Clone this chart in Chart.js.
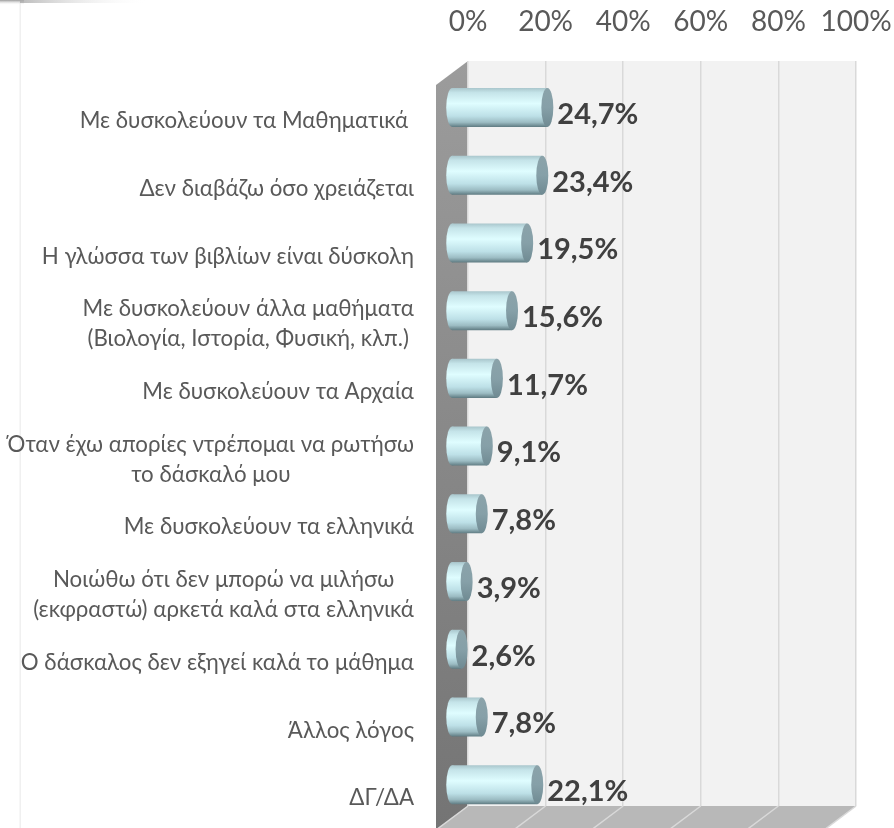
<!DOCTYPE html>
<html><head><meta charset="utf-8">
<style>html,body{margin:0;padding:0;background:#fff}canvas{display:block}</style>
<script src="https://cdn.jsdelivr.net/npm/chart.js@4"></script>
</head><body><canvas id="c" width="894" height="828"></canvas>
<script>
const categories = [
  "Με δυσκολεύουν τα Μαθηματικά ",
  "Δεν διαβάζω όσο χρειάζεται",
  "Η γλώσσα των βιβλίων είναι δύσκολη",
  ["Με δυσκολεύουν άλλα μαθήματα","(Βιολογία, Ιστορία, Φυσική, κλπ.)"],
  "Με δυσκολεύουν τα Αρχαία",
  ["Όταν έχω απορίες ντρέπομαι να ρωτήσω","το δάσκαλό μου"],
  "Με δυσκολεύουν τα ελληνικά",
  ["Νοιώθω ότι δεν μπορώ να μιλήσω","(εκφραστώ) αρκετά καλά στα ελληνικά"],
  "Ο δάσκαλος δεν εξηγεί καλά το μάθημα",
  "Άλλος λόγος",
  "ΔΓ/ΔΑ"
];
const values = [24.7,23.4,19.5,15.6,11.7,9.1,7.8,3.9,2.6,7.8,22.1];
const FONT = "Lato, 'Open Sans', 'Noto Sans', sans-serif";
const dx = -16.5, dy = 12.6, depthX = 32, depthY = 24, capR = 6, BAR = 0.576;

function bodyGradient(c, top, h){
  const g = c.createLinearGradient(0, top, 0, top + h);
  g.addColorStop(0, '#a9c6cc');
  g.addColorStop(0.12, '#c5e4e9');
  g.addColorStop(0.4, '#dffdff');
  g.addColorStop(0.72, '#bde0e7');
  g.addColorStop(0.88, '#9cbcc3');
  g.addColorStop(1, '#5f7b82');
  return g;
}
function noPad(s){ s.paddingLeft = s.paddingRight = s.paddingTop = s.paddingBottom = 0; }
const scene = {
  id: 'scene',
  beforeDraw(chart){
    const c = chart.ctx, a = chart.chartArea, x = chart.scales.x;
    c.save();
    c.fillStyle = '#fff'; c.fillRect(0,0,chart.width,chart.height);
    c.fillStyle = '#f0f0f0'; c.fillRect(19.5,0,1.5,chart.height);
    const s = c.createLinearGradient(0,0,0,5);
    s.addColorStop(0,'#9a9a9a'); s.addColorStop(1,'rgba(255,255,255,0)');
    c.fillStyle = s; c.fillRect(0,0,24,5);
    const s2 = c.createLinearGradient(20,0,150,0);
    s2.addColorStop(0,'rgba(170,170,170,.8)'); s2.addColorStop(1,'rgba(255,255,255,0)');
    c.fillStyle = s2; c.fillRect(20,0,130,3);
    c.fillStyle = '#f2f2f2'; c.fillRect(a.left,a.top,a.right-a.left,a.bottom-a.top);
    const w = c.createLinearGradient(0,a.top,0,a.bottom+depthY);
    w.addColorStop(0,'#9c9c9c'); w.addColorStop(1,'#747474');
    c.fillStyle = w; c.beginPath();
    c.moveTo(a.left-depthX,a.top+depthY); c.lineTo(a.left,a.top);
    c.lineTo(a.left,a.bottom); c.lineTo(a.left-depthX,a.bottom+depthY); c.closePath(); c.fill();
    c.fillStyle = '#b8b8b8'; c.beginPath();
    c.moveTo(a.left,a.bottom); c.lineTo(a.right,a.bottom);
    c.lineTo(a.right-depthX,a.bottom+depthY); c.lineTo(a.left-depthX,a.bottom+depthY); c.closePath(); c.fill();
    c.strokeStyle = '#d9d9d9'; c.lineWidth = 1.5;
    x.ticks.forEach(t=>{
      const p = x.getPixelForValue(t.value);
      c.beginPath(); c.moveTo(p,a.bottom); c.lineTo(p-depthX,a.bottom+depthY); c.stroke();
    });
    c.restore();
    const y = chart.scales.y, items = y.getLabelItems(a);
    if (chart.$centred !== items) {
      c.save();
      items.forEach(it=>{
        if (Array.isArray(it.label)) {
          c.font = it.font.string;
          const wd = Math.max(...it.label.map(l=>c.measureText(l).width));
          it.options.textAlign = 'center';
          it.options.translation[0] -= wd/2;
        }
      });
      c.restore();
      chart.$centred = items;
    }
  },
  beforeDatasetDraw(chart){
    const c = chart.ctx, m = chart.getDatasetMeta(0);
    c.save(); c.translate(dx,dy);
    m.data.forEach(el=>{
      const h = el.height, top = el.y - h/2;
      c.fillStyle = bodyGradient(c, top, h);
      c.beginPath(); c.ellipse(el.base, el.y, capR, h/2, 0, 0, Math.PI*2); c.fill();
    });
  },
  afterDatasetDraw(chart){
    const c = chart.ctx, m = chart.getDatasetMeta(0);
    m.data.forEach((el,i)=>{
      const h = el.height, top = el.y - h/2;
      const g = c.createLinearGradient(0, top, 0, top+h);
      g.addColorStop(0,'#8ba3aa'); g.addColorStop(0.5,'#86a0a8'); g.addColorStop(1,'#6f8a92');
      c.fillStyle = g;
      c.beginPath(); c.ellipse(el.x, el.y, capR, h/2, 0, 0, Math.PI*2); c.fill();
      c.font = "bold 29px " + FONT;
      c.fillStyle = '#404040';
      c.textAlign = 'left'; c.textBaseline = 'middle';
      c.fillText(values[i].toFixed(1).replace('.',',') + '%', el.x + capR + 4, el.y + 7);
    });
    c.restore();
  }
};
new Chart(document.getElementById('c'), {
  type: 'bar',
  plugins: [scene],
  data: { labels: categories, datasets: [{
    data: values,
    base: 0,
    clip: false,
    barPercentage: BAR,
    categoryPercentage: 1,
    borderWidth: 0,
    backgroundColor(ctx){
      if (ctx.dataIndex === undefined || !ctx.chart.chartArea) return '#c8e8ee';
      const y = ctx.chart.scales.y, band = Math.abs(y.getPixelForValue(1) - y.getPixelForValue(0));
      const h = band * BAR;
      return bodyGradient(ctx.chart.ctx, y.getPixelForValue(ctx.dataIndex) - h/2, h);
    }
  }]},
  options: {
    indexAxis: 'y',
    responsive: false,
    animation: false,
    layout: { padding: { left: 0, top: 0, right: 38, bottom: 22 } },
    plugins: { legend: { display: false }, tooltip: { enabled: false } },
    scales: {
      x: {
        position: 'top', min: 0, max: 100,
        afterFit(s){ s.height = 61; noPad(s); },
        border: { display: false },
        grid: { color: '#d9d9d9', lineWidth: 1.5, drawTicks: false },
        ticks: { stepSize: 20, padding: 22, color: '#595959', maxRotation: 0,
          font: { family: FONT, size: 28 }, callback: v => v + '%' }
      },
      y: {
        afterFit(s){ s.width = 468; noPad(s); },
        border: { display: false },
        grid: { display: false, drawTicks: false },
        ticks: { autoSkip: false, padding: 54, labelOffset: 26, color: '#595959',
          font: { family: FONT, size: 22.3, lineHeight: 1.35 } }
      }
    }
  }
});
</script></body></html>
